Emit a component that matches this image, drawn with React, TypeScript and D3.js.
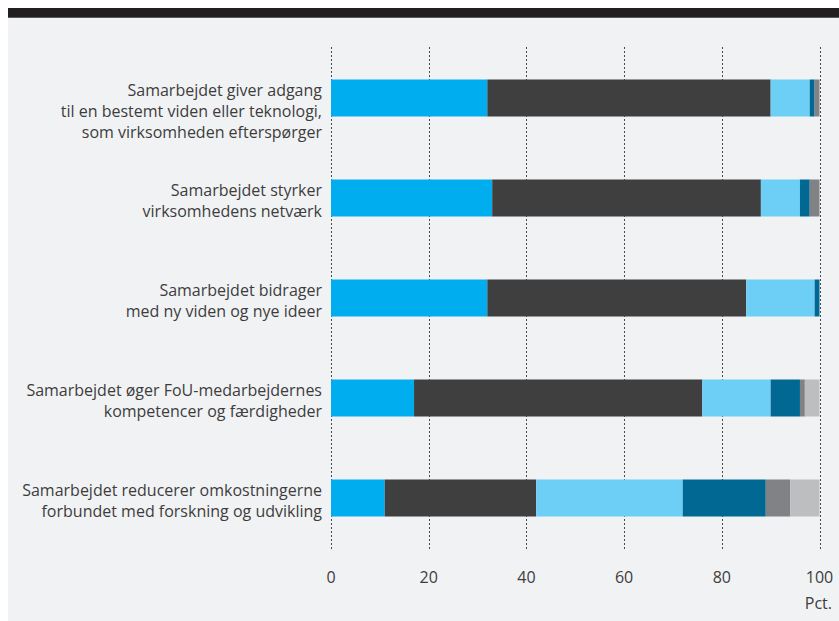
import * as d3 from 'd3';

// Labels (one entry per line of text)
const categories: string[][] = [
  ['Samarbejdet giver adgang', 'til en bestemt viden eller teknologi,', 'som virksomheden efterspørger'],
  ['Samarbejdet styrker', 'virksomhedens netværk'],
  ['Samarbejdet bidrager', 'med ny viden og nye ideer'],
  ['Samarbejdet øger FoU-medarbejdernes', 'kompetencer og færdigheder'],
  ['Samarbejdet reducerer omkostningerne', 'forbundet med forskning og udvikling'],
];

// Stacked segments, in percent, left to right
const s1 = [32, 33, 32, 17, 11];
const s2 = [58, 55, 53, 59, 31];
const s3 = [8, 8, 14, 14, 30];
const s4 = [1, 2, 1, 6, 17];
const s5 = [1, 2, 0, 1, 5];
const s6 = [0, 0, 0, 3, 6];

const series = [s1, s2, s3, s4, s5, s6];
const colors = ['#00aeef', '#3f3f3f', '#6dcff6', '#006892', '#808285', '#bcbec0'];
const ticks = [0, 20, 40, 60, 80, 100];

const W = 839;
const H = 621;
const FONT = '"Open Sans", "DejaVu Sans", sans-serif';
const TEXT = '#3d3d3d';

export default function App() {
  const x = d3.scaleLinear().domain([0, 100]).range([331, 819.5]);
  const y = d3
    .scaleBand<number>()
    .domain(categories.map((_, i) => i))
    .range([48, 548])
    .paddingInner(0.63)
    .paddingOuter(0.315);

  const rows = categories.map((_, i) => {
    const vals = series.map(s => s[i]);
    const stack: { x0: number; x1: number; c: string }[] = [];
    let acc = 0;
    vals.forEach((v, k) => {
      stack.push({ x0: acc, x1: acc + v, c: colors[k] });
      acc += v;
    });
    return stack;
  });

  return (
    <svg
      width={W}
      height={H}
      style={{ position: 'absolute', left: 0, top: 0, display: 'block' }}
    >
      <rect x={0} y={0} width={W} height={H} fill="#ffffff" />
      <rect x={8} y={8} width={W - 8} height={10} fill="#231f20" />
      <rect x={8} y={18} width={W - 8} height={H - 18} fill="#f1f2f4" />
      <line x1={8} x2={W} y1={17.5} y2={17.5} stroke="#5a5a5c" />

      {/* dotted grid */}
      {ticks.map(t => (
        <line
          key={'g' + t}
          x1={Math.round(x(t)) + 0.5}
          x2={Math.round(x(t)) + 0.5}
          y1={47}
          y2={549}
          stroke="#4a4a4a"
          strokeWidth={1}
          strokeDasharray="2,2"
        />
      ))}

      {/* bars */}
      {rows.map((stack, i) =>
        stack
          .filter(d => d.x1 > d.x0)
          .map((d, k) => (
            <rect
              key={i + '-' + k}
              x={x(d.x0)}
              y={y(i)}
              width={x(d.x1) - x(d.x0)}
              height={y.bandwidth()}
              fill={d.c}
            />
          ))
      )}

      {/* category labels */}
      {categories.map((lines, i) => (
        <text
          key={'l' + i}
          x={322}
          y={(y(i) ?? 0) + 16}
          textAnchor="end"
          fontFamily={FONT}
          fontWeight={400}
          fontSize={16}
          fill={TEXT}
        >
          {lines.map((ln, j) => (
            <tspan key={j} x={322} dy={j === 0 ? 0 : 21}>
              {ln}
            </tspan>
          ))}
        </text>
      ))}

      {/* x tick labels */}
      {ticks.map(t => (
        <text
          key={'t' + t}
          x={x(t)}
          y={583}
          textAnchor="middle"
          fontFamily={FONT}
          fontWeight={400}
          fontSize={16}
          fill={TEXT}
        >
          {t}
        </text>
      ))}
      <text
        x={832}
        y={609}
        textAnchor="end"
        fontFamily={FONT}
        fontWeight={400}
        fontSize={16}
        fill={TEXT}
      >
        Pct.
      </text>
    </svg>
  );
}
